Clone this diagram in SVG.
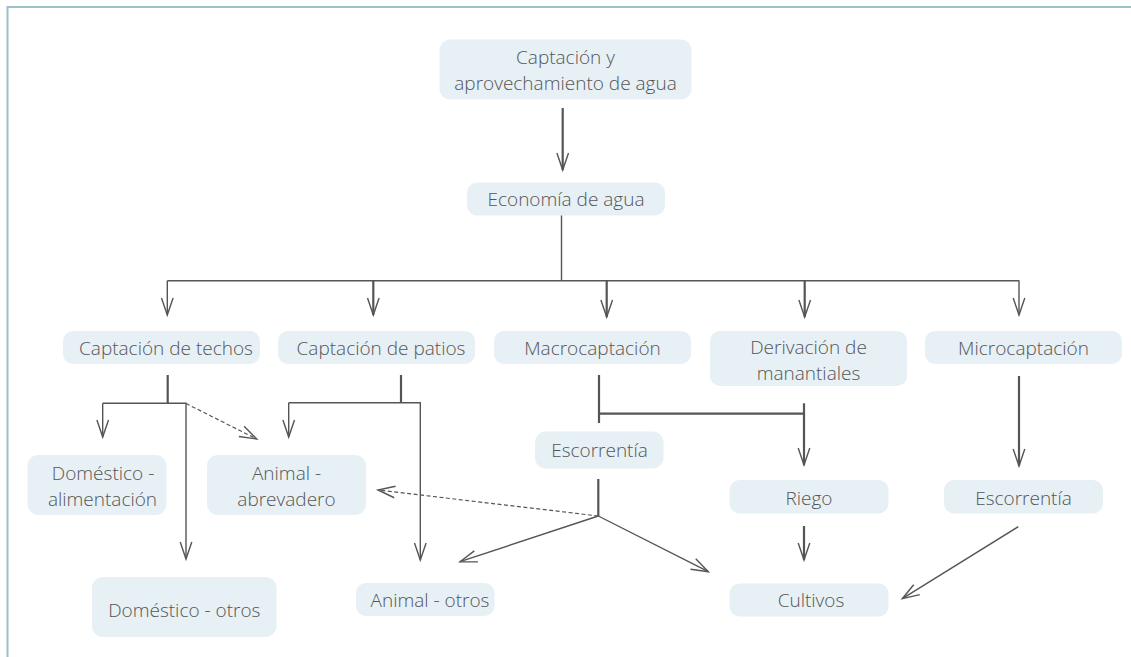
<svg xmlns="http://www.w3.org/2000/svg" width="1131" height="657" viewBox="0 0 1131 657">
<style>
.box{fill:#e7f0f5;}
.t{font-family:"Open Sans","Liberation Sans",sans-serif;font-weight:300;font-size:19px;fill:#555;text-anchor:middle;}
.c{fill:none;stroke:#555;stroke-width:1.4;}
.th{stroke-width:2.2;}
.d{stroke-dasharray:4 2.5;stroke-width:1.2;}
</style>
<defs>
<marker id="ah" markerUnits="userSpaceOnUse" markerWidth="20" markerHeight="14" viewBox="-18 -7 20 14" refX="0" refY="0" orient="auto" overflow="visible">
<path d="M-17,-5.8 L0,0 L-17,5.8" fill="none" stroke="#555" stroke-width="1.4"/>
</marker>
</defs>
<rect width="1131" height="657" fill="#fff"/>
<g id="border" fill="none" stroke="#9cc0ca" stroke-width="2">
<path d="M7.5,657 V7 H1131"/>
</g>
<g id="connectors">
<path class="c th" d="M562.7,108 V170" marker-end="url(#ah)"/>
<path class="c" d="M561.5,215 V280.7 M167.3,280.7 H1019.3"/>
<path class="c" d="M167.3,280.7 V315" marker-end="url(#ah)"/>
<path class="c th" d="M373.3,280.7 V315" marker-end="url(#ah)"/>
<path class="c th" d="M606.7,280.7 V317" marker-end="url(#ah)"/>
<path class="c th" d="M804.7,280.7 V317" marker-end="url(#ah)"/>
<path class="c" d="M1019,280.7 V315" marker-end="url(#ah)"/>
<path class="c th" d="M167.7,375 V403.3"/>
<path class="c" d="M102.7,403.3 V437" marker-end="url(#ah)"/>
<path class="c" d="M102.7,403.3 H186 V559" marker-end="url(#ah)"/>
<path class="c d" d="M186,403.5 L256.7,439" marker-end="url(#ah)"/>
<path class="c th" d="M401,375 V402.7"/>
<path class="c" d="M288.7,402.7 V437" marker-end="url(#ah)"/>
<path class="c" d="M288.7,402.7 H420.3 V560" marker-end="url(#ah)"/>
<path class="c th" d="M599,375 V423"/>
<path class="c th" d="M599,413.7 H804"/>
<path class="c th" d="M804,403.3 V465" marker-end="url(#ah)"/>
<path class="c th" d="M598.3,479 V516"/>
<path class="c" d="M598.3,516 L460,561.7" marker-end="url(#ah)"/>
<path class="c" d="M598.3,516 L708.3,571.7" marker-end="url(#ah)"/>
<path class="c d" d="M598.3,516 L378,490" marker-end="url(#ah)"/>
<path class="c th" d="M804,526 V560" marker-end="url(#ah)"/>
<path class="c th" d="M1019,376 V466" marker-end="url(#ah)"/>
<path class="c" d="M1018.3,526.7 L902.3,598.7" marker-end="url(#ah)"/>
</g>
<g id="n-captacion">
<rect class="box" x="439.5" y="39.5" width="252" height="60" rx="11"/>
<text class="t" x="565.5" y="64">Captación y</text>
<text class="t" x="565.5" y="90">aprovechamiento de agua</text>
</g>
<g id="n-economia">
<rect class="box" x="467" y="182.5" width="198" height="33" rx="10"/>
<text class="t" x="566" y="205.5">Economía de agua</text>
</g>
<g id="n-techos">
<rect class="box" x="63" y="331" width="197" height="33" rx="10"/>
<text class="t" x="166" y="354.5">Captación de techos</text>
</g>
<g id="n-patios">
<rect class="box" x="278" y="331" width="197" height="33" rx="10"/>
<text class="t" x="381" y="354.5">Captación de patios</text>
</g>
<g id="n-macro">
<rect class="box" x="494" y="331" width="197" height="33" rx="10"/>
<text class="t" x="592.5" y="354.5">Macrocaptación</text>
</g>
<g id="n-derivacion">
<rect class="box" x="710" y="331" width="197" height="55" rx="10"/>
<text class="t" x="808.5" y="353.5">Derivación de</text>
<text class="t" x="808.5" y="379.5">manantiales</text>
</g>
<g id="n-micro">
<rect class="box" x="925" y="331" width="197" height="33" rx="10"/>
<text class="t" x="1023.5" y="354.5">Microcaptación</text>
</g>
<g id="n-dom-alim">
<rect class="box" x="27.5" y="455" width="139" height="60" rx="11"/>
<text class="t" x="103" y="479.5">Doméstico -</text>
<text class="t" x="102.5" y="505.5">alimentación</text>
</g>
<g id="n-animal-abrev">
<rect class="box" x="207" y="455" width="159" height="60" rx="11"/>
<text class="t" x="286.5" y="479.5">Animal -</text>
<text class="t" x="286.5" y="505.5">abrevadero</text>
</g>
<g id="n-dom-otros">
<rect class="box" x="92" y="577" width="184.5" height="60" rx="11"/>
<text class="t" x="184.3" y="616.5">Doméstico - otros</text>
</g>
<g id="n-animal-otros">
<rect class="box" x="356" y="583" width="138.5" height="33" rx="10"/>
<text class="t" x="430" y="607">Animal - otros</text>
</g>
<g id="n-escorrentia1">
<rect class="box" x="535" y="431.5" width="128.5" height="37" rx="11"/>
<text class="t" x="599.5" y="457">Escorrentía</text>
</g>
<g id="n-riego">
<rect class="box" x="729.5" y="480" width="159" height="33.5" rx="10"/>
<text class="t" x="809" y="504.5">Riego</text>
</g>
<g id="n-escorrentia2">
<rect class="box" x="944" y="480" width="159" height="33.5" rx="10"/>
<text class="t" x="1023.5" y="504.5">Escorrentía</text>
</g>
<g id="n-cultivos">
<rect class="box" x="729.5" y="583.5" width="159" height="33" rx="10"/>
<text class="t" x="811" y="607">Cultivos</text>
</g>
</svg>
